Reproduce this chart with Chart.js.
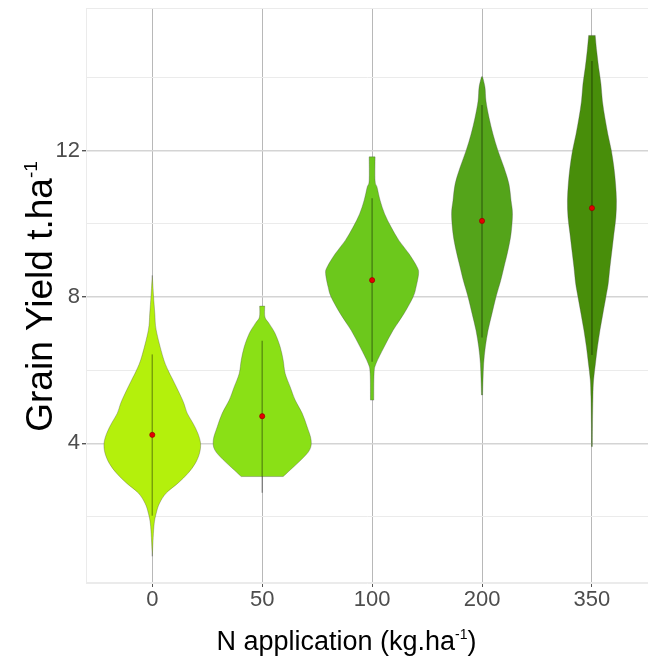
<!DOCTYPE html>
<html>
<head>
<meta charset="utf-8">
<script src="https://cdn.jsdelivr.net/npm/chart.js@4/dist/chart.umd.min.js"></script>
<style>
  html, body { margin: 0; padding: 0; background: #fff; }
  canvas { display: block; }
</style>
</head>
<body>
<canvas id="yieldChart" width="648" height="659"></canvas>
<script>
// N rates (x categories)
const categories = ['0', '50', '100', '200', '350'];

// Mean yield per N rate and mean ± 2 SD range
const means   = [4.23, 4.74, 8.46, 10.08, 10.43];
const sdlLow  = [2.02, 2.65, 6.23, 6.89, 6.41];
const sdlHigh = [6.43, 6.80, 10.70, 13.25, 14.45];

// Kernel density per N rate (half-width in category units)
const yield0 = [8.59, 8.30, 8.00, 7.55, 7.09, 6.36, 6.00, 5.73, 5.36, 5.09, 4.82, 4.55, 4.27, 4.00, 3.73, 3.45, 3.18, 2.91, 2.64, 2.36, 2.09, 1.73, 0.91];
const dens0  = [0.000, 0.006, 0.012, 0.023, 0.036, 0.097, 0.143, 0.188, 0.248, 0.288, 0.318, 0.370, 0.415, 0.439, 0.430, 0.391, 0.325, 0.234, 0.127, 0.066, 0.036, 0.015, 0.000];

const yield50 = [7.75, 7.45, 7.27, 7.00, 6.63, 6.27, 5.91, 5.54, 5.18, 4.82, 4.45, 4.09, 3.82, 3.55, 3.27, 3.09];
const dens50  = [0.023, 0.025, 0.064, 0.118, 0.164, 0.191, 0.209, 0.255, 0.300, 0.364, 0.409, 0.445, 0.432, 0.355, 0.255, 0.191];

const yield100 = [11.83, 11.18, 11.00, 10.64, 10.27, 9.91, 9.54, 9.18, 8.82, 8.64, 8.27, 8.00, 7.55, 7.09, 6.63, 6.18, 5.91, 5.18];
const dens100  = [0.027, 0.027, 0.045, 0.073, 0.114, 0.173, 0.245, 0.336, 0.409, 0.423, 0.400, 0.373, 0.291, 0.191, 0.109, 0.036, 0.018, 0.015];

const yield200 = [14.02, 13.73, 13.36, 12.90, 12.45, 12.00, 11.54, 11.09, 10.64, 10.27, 9.73, 9.27, 8.82, 8.45, 8.00, 7.55, 7.09, 6.63, 6.18, 5.73, 5.32];
const dens200  = [0.005, 0.027, 0.036, 0.064, 0.100, 0.145, 0.200, 0.245, 0.264, 0.277, 0.264, 0.236, 0.200, 0.170, 0.127, 0.091, 0.055, 0.030, 0.015, 0.009, 0.005];

const yield350 = [15.15, 14.73, 14.27, 13.82, 13.36, 12.90, 12.45, 12.00, 11.54, 11.09, 10.64, 10.18, 9.73, 9.27, 8.82, 8.36, 8.00, 7.55, 7.09, 6.63, 6.18, 5.73, 5.27, 4.50, 3.91];
const dens350  = [0.030, 0.043, 0.061, 0.082, 0.095, 0.118, 0.145, 0.177, 0.200, 0.215, 0.223, 0.218, 0.200, 0.182, 0.164, 0.148, 0.127, 0.100, 0.073, 0.050, 0.032, 0.015, 0.009, 0.005, 0.004];

// y gridlines: labelled majors every 4, minors in between
const yGrid = [2, 4, 6, 8, 10, 12, 14];

const fillColors = ['#b4f00c', '#8ae016', '#6cc81c', '#54a41a', '#488e0a'];

const violins = [
    { yield: yield0,   dens: dens0 },
    { yield: yield50,  dens: dens50 },
    { yield: yield100, dens: dens100 },
    { yield: yield200, dens: dens200 },
    { yield: yield350, dens: dens350 }
];

const FONT = '"Liberation Sans", Arial, Helvetica, sans-serif';

// Catmull-Rom through the outline points, as bezier segments
function smoothPath(ctx, pts, start) {
    if (start) ctx.moveTo(pts[0][0], pts[0][1]); else ctx.lineTo(pts[0][0], pts[0][1]);
    for (let k = 0; k < pts.length - 1; k++) {
        const p0 = pts[Math.max(k - 1, 0)];
        const p1 = pts[k];
        const p2 = pts[k + 1];
        const p3 = pts[Math.min(k + 2, pts.length - 1)];
        ctx.bezierCurveTo(
            p1[0] + (p2[0] - p0[0]) / 6, p1[1] + (p2[1] - p0[1]) / 6,
            p2[0] - (p3[0] - p1[0]) / 6, p2[1] - (p3[1] - p1[1]) / 6,
            p2[0], p2[1]
        );
    }
}

// Violin bodies, panel border and mean ± 2 SD lines, under the mean points
const violinPlugin = {
    id: 'violins',
    beforeDatasetsDraw(chart) {
        const { ctx, chartArea, scales: { x, y } } = chart;
        ctx.save();
        ctx.strokeStyle = '#ebebeb';
        ctx.lineWidth = 1;
        ctx.strokeRect(chartArea.left + 0.5, chartArea.top + 0.5, chartArea.width + 2, chartArea.bottom - chartArea.top - 1);

        ctx.beginPath();
        ctx.rect(chartArea.left, chartArea.top, chartArea.width, chartArea.height);
        ctx.clip();

        violins.forEach((v, i) => {
            const right = v.yield.map((yv, k) => [x.getPixelForValue(i + v.dens[k]), y.getPixelForValue(yv)]);
            const left = v.yield.map((yv, k) => [x.getPixelForValue(i - v.dens[k]), y.getPixelForValue(yv)]).reverse();
            ctx.beginPath();
            smoothPath(ctx, right, true);
            smoothPath(ctx, left, false);
            ctx.closePath();
            ctx.fillStyle = fillColors[i];
            ctx.fill();
            ctx.strokeStyle = 'rgba(70,70,70,0.55)';
            ctx.lineWidth = 0.6;
            ctx.stroke();
        });

        ctx.strokeStyle = 'rgba(0,0,0,0.33)';
        ctx.lineWidth = 1.5;
        categories.forEach((c, i) => {
            const px = x.getPixelForValue(i);
            ctx.beginPath();
            ctx.moveTo(px, y.getPixelForValue(sdlLow[i]));
            ctx.lineTo(px, y.getPixelForValue(sdlHigh[i]));
            ctx.stroke();
        });
        ctx.restore();
    }
};

// Axis titles with a raised "-1"
const titlePlugin = {
    id: 'axisTitles',
    afterDraw(chart) {
        const { ctx } = chart;
        ctx.save();
        ctx.fillStyle = '#000';
        ctx.textAlign = 'left';
        ctx.textBaseline = 'alphabetic';
        ctx.translate(51.5, 296.5);
        ctx.rotate(-Math.PI / 2);
        ctx.font = '37px ' + FONT;
        const wY = ctx.measureText('Grain Yield t.ha').width;
        ctx.font = '19px ' + FONT;
        const wYs = ctx.measureText('-1').width;
        const ys = -(wY + wYs) / 2;
        ctx.font = '37px ' + FONT;
        ctx.fillText('Grain Yield t.ha', ys, 0);
        ctx.font = '19px ' + FONT;
        ctx.fillText('-1', ys + wY, -15);
        ctx.restore();

        ctx.save();
        ctx.fillStyle = '#000';
        ctx.textAlign = 'left';
        ctx.textBaseline = 'alphabetic';
        ctx.translate(346.5, 650);
        ctx.font = '27px ' + FONT;
        const wA = ctx.measureText('N application (kg.ha').width;
        ctx.font = '14px ' + FONT;
        const wS = ctx.measureText('-1').width;
        ctx.font = '27px ' + FONT;
        const wC = ctx.measureText(')').width;
        const xs = -(wA + wS + wC) / 2;
        ctx.fillText('N application (kg.ha', xs, 0);
        ctx.font = '14px ' + FONT;
        ctx.fillText('-1', xs + wA, -11);
        ctx.font = '27px ' + FONT;
        ctx.fillText(')', xs + wA + wS, 0);
        ctx.restore();
    }
};

new Chart(document.getElementById('yieldChart'), {
    type: 'scatter',
    data: {
        datasets: [{
            label: 'Mean',
            data: means.map((m, i) => ({ x: i, y: m })),
            pointRadius: 2.6,
            pointHoverRadius: 2.6,
            backgroundColor: '#e40000',
            borderColor: '#8a0000',
            borderWidth: 0.6
        }]
    },
    options: {
        responsive: false,
        animation: false,
        layout: { autoPadding: false, padding: { top: 8, left: 0, right: 0, bottom: 0 } },
        plugins: {
            legend: { display: false },
            tooltip: { enabled: false }
        },
        scales: {
            x: {
                type: 'linear',
                min: -0.603,
                max: 4.51,
                afterBuildTicks: (scale) => { scale.ticks = categories.map((c, i) => ({ value: i })); },
                afterFit: (scale) => {
                    scale.height = 76;
                    scale.paddingLeft = 0;
                    scale.paddingRight = 0;
                },
                grid: {
                    color: '#b8b8b8',
                    lineWidth: 1,
                    tickColor: '#555',
                    tickLength: 4
                },
                border: { display: true, color: '#ebebeb' },
                ticks: {
                    color: '#4d4d4d',
                    font: { family: FONT, size: 22 },
                    padding: 0,
                    maxRotation: 0,
                    autoSkip: false,
                    callback: (v) => categories[v]
                }
            },
            y: {
                type: 'linear',
                min: 0.18,
                max: 15.9,
                afterBuildTicks: (scale) => { scale.ticks = yGrid.map(v => ({ value: v })); },
                afterFit: (scale) => {
                    scale.width = 86;
                    scale.paddingTop = 0;
                    scale.paddingBottom = 0;
                },
                grid: {
                    color: (c) => (c.tick && c.tick.value % 4 === 0) ? '#d4d4d4' : '#ebebeb',
                    lineWidth: (c) => (c.tick && c.tick.value % 4 === 0) ? 1.4 : 1,
                    tickColor: (c) => (c.tick && c.tick.value % 4 === 0) ? '#555' : 'rgba(0,0,0,0)',
                    tickLength: 4
                },
                border: { display: true, color: '#ebebeb' },
                ticks: {
                    color: '#4d4d4d',
                    font: { family: FONT, size: 22 },
                    padding: 2,
                    autoSkip: false,
                    callback: (v) => (v % 4 === 0 ? String(v) : '')
                }
            }
        }
    },
    plugins: [violinPlugin, titlePlugin]
});
</script>
</body>
</html>
